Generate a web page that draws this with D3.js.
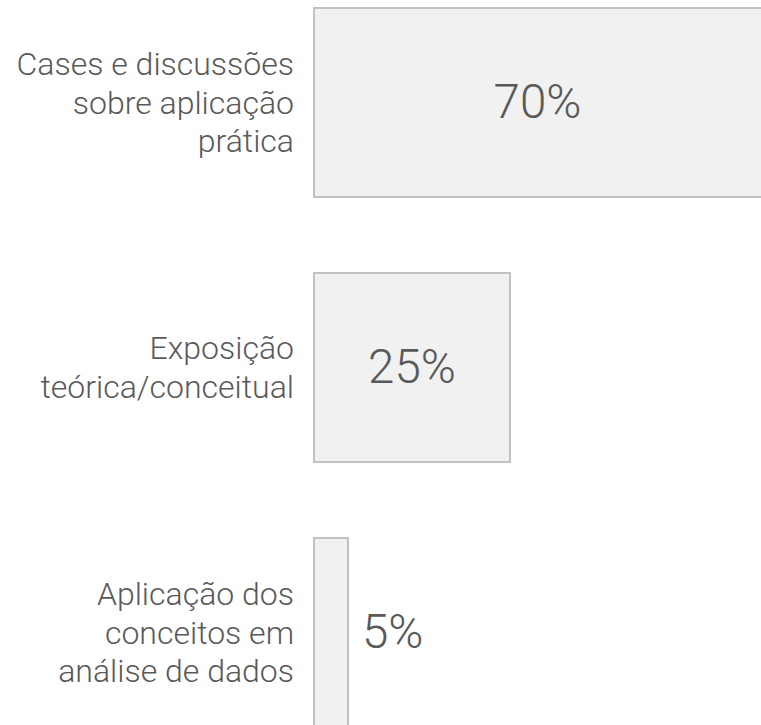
<!DOCTYPE html>
<html>
<head>
<meta charset="utf-8">
<script src="https://cdn.jsdelivr.net/npm/d3@7"></script>
<style>
  html, body { margin: 0; padding: 0; background: #fff; overflow: hidden; }
  svg { display: block; font-family: Roboto, "Open Sans", sans-serif; font-weight: 300; }
</style>
</head>
<body>
<svg id="chart"></svg>
<script>
// --- Data ---
const categories = [
    ["Cases e discussões", "sobre aplicação", "prática"],
    ["Exposição", "teórica/conceitual"],
    ["Aplicação dos", "conceitos em", "análise de dados"]
];
const values = [70, 25, 5];
const valueLabels = ["70%", "25%", "5%"];

// --- Setup ---
const W = 761, H = 725;
const svg = d3.select("#chart")
    .attr("width", W)
    .attr("height", H);

const keys = categories.map((d, i) => i);

// --- Scales ---
const yScale = d3.scaleBand()
    .domain(keys)
    .range([8, 727])
    .paddingInner(0.287)
    .paddingOuter(0);

const xScale = d3.scaleLinear()
    .domain([0.8, 25])
    .range([314, 510]);

const x0 = xScale(0.8);
const textColor = "#595959";

// --- Bars ---
const rows = svg.selectAll(".row")
    .data(keys)
    .join("g")
    .attr("class", "row")
    .attr("transform", i => `translate(0,${yScale(i)})`);

rows.append("rect")
    .attr("x", x0)
    .attr("y", 0)
    .attr("width", i => xScale(values[i]) - x0)
    .attr("height", yScale.bandwidth())
    .attr("fill", "#f1f1f1")
    .attr("stroke", "#c1c1c1")
    .attr("stroke-width", 2);

// category labels, right aligned and vertically centred on the bar
const lineH = 38.5;
rows.append("text")
    .attr("text-anchor", "end")
    .attr("fill", textColor)
    .style("font-size", "32px")
    .each(function (i) {
        const lines = categories[i];
        const t = d3.select(this);
        lines.forEach((l, k) => {
            t.append("tspan")
                .attr("x", 294)
                .attr("y", yScale.bandwidth() / 2 + (k - (lines.length - 1) / 2) * lineH)
                .attr("dy", "0.35em")
                .text(l);
        });
    });

// value labels: centred in the visible part of the bar, or beside it when narrow
rows.append("text")
    .attr("fill", textColor)
    .style("font-size", "47.5px")
    .attr("dy", "0.33em")
    .attr("y", yScale.bandwidth() / 2)
    .text(i => valueLabels[i])
    .each(function (i) {
        const t = d3.select(this);
        const right = Math.min(xScale(values[i]), W);
        const tw = this.getComputedTextLength();
        if (right - x0 > tw + 30) {
            t.attr("text-anchor", "middle").attr("x", (x0 + right) / 2);
        } else {
            t.attr("text-anchor", "start").attr("x", right + 14);
        }
    });
</script>
</body>
</html>
